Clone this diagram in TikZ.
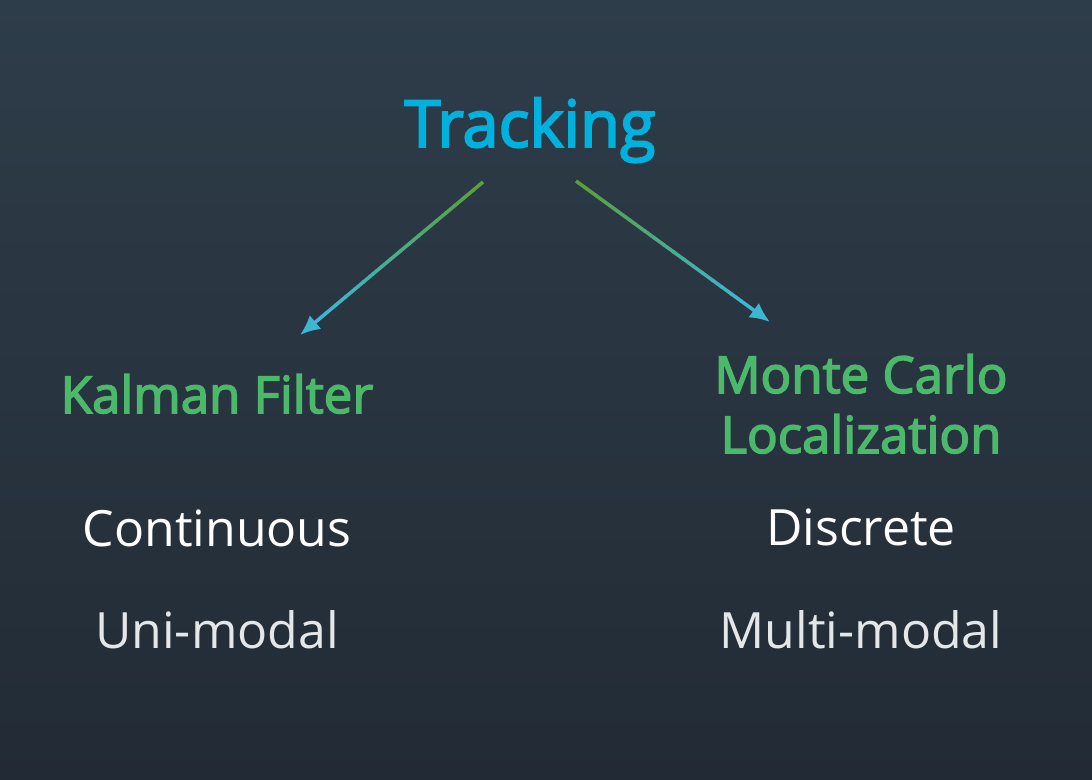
\documentclass[tikz,border=0pt]{standalone}
\usepackage{fontspec}
\setmainfont{Open Sans}
\newfontfamily\headfont[FakeBold=3]{Open Sans}
\usetikzlibrary{arrows.meta,calc}

\definecolor{bgtop}{HTML}{2E3D4A}
\definecolor{bgbottom}{HTML}{222B35}
\definecolor{trackblue}{HTML}{00B1DD}
\definecolor{headgreen}{HTML}{4CB86A}
\definecolor{arrowgreen}{HTML}{5BA03A}
\definecolor{arrowcyan}{HTML}{3DB6D2}
\definecolor{softwhite}{HTML}{E4E7EA}

\pgfdeclarelayer{bglayer}
\pgfdeclarelayer{edgelayer}
\pgfdeclarelayer{nodelayer}
\pgfsetlayers{bglayer,edgelayer,nodelayer,main}
\tikzstyle{none}=[inner sep=0pt]
\tikzstyle{title}=[inner sep=0pt,anchor=base,text=trackblue,font=\headfont\fontsize{65}{78}\selectfont]
\tikzstyle{method}=[inner sep=0pt,anchor=base,text=headgreen,align=center,font=\headfont\fontsize{51}{60}\selectfont]
\tikzstyle{property}=[inner sep=0pt,anchor=base,text=white,font=\fontsize{50}{60}\selectfont]
\tikzstyle{transition}=[line width=3.5pt]

\begin{document}
\begin{tikzpicture}[x=1pt,y=-1pt]
	\begin{pgfonlayer}{bglayer}
		\shade [top color=bgtop,bottom color=bgbottom] (0,0) rectangle (1092,779);
	\end{pgfonlayer}
	\useasboundingbox (0,0) rectangle (1092,779);
	\begin{pgfonlayer}{nodelayer}
		\node [style=title] (0) at (530, 147) {Tracking};
		\node [style=method] (1) at (217, 413) {Kalman Filter};
		\node [style=method] (2) at (861, 453) {Monte Carlo\\Localization};
		\node [style=property] (3) at (217, 546) {Continuous};
		\node [style=property,text=softwhite] (4) at (217, 648) {Uni-modal};
		\node [style=property] (5) at (861, 545) {Discrete};
		\node [style=property,text=softwhite] (6) at (861, 648) {Multi-modal};
		\coordinate (7) at (483, 182);
		\coordinate (8) at (300, 335);
		\coordinate (9) at (576, 181);
		\coordinate (10) at (770, 322);
	\end{pgfonlayer}
	\begin{pgfonlayer}{edgelayer}
		% green to cyan, piece by piece
		\foreach \a/\b in {7/8, 9/10} {
			\foreach \i in {0,...,16} {
				\pgfmathtruncatemacro{\p}{100-\i*6}
				\draw [style=transition,draw=arrowgreen!\p!arrowcyan] ($(\a)!\i/20!(\b)$) -- ($(\a)!{(\i+1.1)/20}!(\b)$);
			}
			\draw [style=transition,draw=arrowcyan,-{Latex[length=20pt,width=18pt]}] ($(\a)!17/20!(\b)$) -- (\b);
		}
	\end{pgfonlayer}
\end{tikzpicture}
\end{document}
